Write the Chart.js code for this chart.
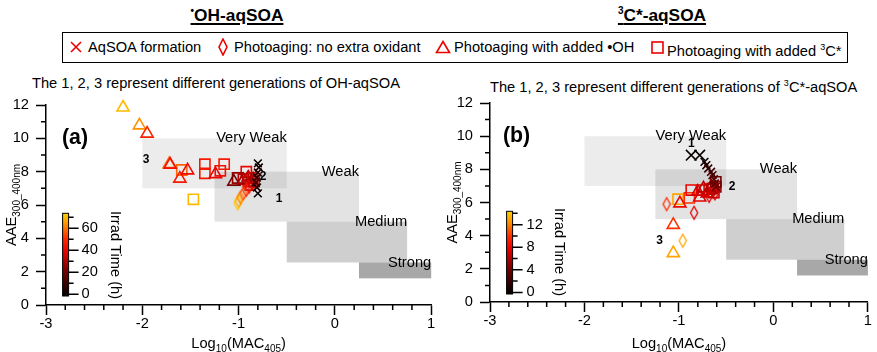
<!DOCTYPE html>
<html>
<head>
<meta charset="utf-8">
<script src="https://cdn.jsdelivr.net/npm/chart.js@4.4.1/dist/chart.umd.min.js"></script>
<style>
  body { margin: 0; background: #fff; }
  #page { position: relative; width: 877px; height: 352px; overflow: hidden; font-family: "Liberation Sans", Arial, sans-serif; color: #000; }
  .ttl { position: absolute; top: 0; width: 240px; text-align: center; font-weight: bold; font-size: 17.3px; line-height: 22px; }
  .ttl span { text-decoration: underline; text-underline-offset: 2px; text-decoration-thickness: 1.5px; }
  .ttl sup { font-size: 10px; }
  #legend { position: absolute; left: 62px; top: 32px; width: 786px; height: 31px; border: 1.5px solid #000; box-sizing: border-box; }
  .li { position: absolute; top: 38px; font-size: 14.67px; line-height: 18px; white-space: nowrap; }
  .li sup { font-size: 9px; vertical-align: 6px; }
  .mk { position: absolute; }
  .subt { position: absolute; top: 75px; font-size: 14.67px; line-height: 16px; white-space: nowrap; }
  .subt sup { font-size: 9px; vertical-align: 6px; }
  canvas { position: absolute; top: 70px; }
</style>
</head>
<body>
<div id="page">
  <div class="ttl" style="left:117px"><span><sup>•</sup>OH-aqSOA</span></div>
  <div class="ttl" style="left:542px"><span><sup>3</sup>C*-aqSOA</span></div>

  <div id="legend"></div>
  <svg class="mk" style="left:70px;top:41px" width="12" height="12"><path d="M1,1 L11,11 M11,1 L1,11" stroke="#e00" stroke-width="1.6"/></svg>
  <div class="li" style="left:88px">AqSOA formation</div>
  <svg class="mk" style="left:218px;top:38px" width="10" height="18"><path d="M5,1 L9,9 L5,17 L1,9 Z" fill="none" stroke="#e00" stroke-width="1.6"/></svg>
  <div class="li" style="left:234px">Photoaging: no extra oxidant</div>
  <svg class="mk" style="left:435px;top:40px" width="16" height="14"><path d="M8,1.5 L14.5,12.5 L1.5,12.5 Z" fill="none" stroke="#e00" stroke-width="1.6"/></svg>
  <div class="li" style="left:454px">Photoaging with added •OH</div>
  <svg class="mk" style="left:651px;top:41px" width="13" height="13"><rect x="1" y="1" width="11" height="11" fill="none" stroke="#e00" stroke-width="1.6"/></svg>
  <div class="li" style="left:667px">Photoaging with added <sup>3</sup>C*</div>

  <div class="subt" style="left:32px">The 1, 2, 3 represent different generations of OH-aqSOA</div>
  <div class="subt" style="left:490px">The 1, 2, 3 represent different generations of <sup>3</sup>C*-aqSOA</div>

  <canvas id="chartA" width="440" height="282" style="left:0px"></canvas>
  <canvas id="chartB" width="437" height="282" style="left:440px"></canvas>
</div>
<script>
// axes
const xTicks = [-3, -2, -1, 0, 1];
const yTicks = [0, 2, 4, 6, 8, 10, 12];
const xMinorTicks = [];
for (let v = -3; v < 1; v += 0.2) { if (Math.abs(v - Math.round(v)) > 0.01) xMinorTicks.push(v); }
const yMinorTicks = [1, 3, 5, 7, 9, 11];

// absorptivity classes (log10 MAC range, AAE range)
const zoneNames = ['Very Weak', 'Weak', 'Medium', 'Strong'];
const zoneX0 = [-2, -1.25, -0.5, 0.25];
const zoneX1 = [-0.5, 0.25, 0.75, 1];
const zoneY0 = [7, 5, 2.55, 1.6];
const zoneY1 = [10, 8, 5, 2.55];
const zoneFill = ['rgba(0,0,0,0.075)', 'rgba(0,0,0,0.11)', 'rgba(0,0,0,0.19)', 'rgba(0,0,0,0.34)'];

// panel (a) OH-aqSOA : [log10 MAC405, AAE, irradiation time h]
const ohFormation = [[-0.80, 8.50, 0], [-0.79, 8.25, 2], [-0.80, 7.95, 6], [-0.81, 7.65, 9], [-0.82, 7.35, 12], [-0.81, 7.05, 5], [-0.80, 6.70, 0]];
const ohNoOxidant = [[-1.01, 6.10, 72], [-1.00, 6.25, 68], [-0.98, 6.45, 62], [-0.95, 6.70, 56], [-0.92, 6.90, 50], [-0.89, 7.10, 44], [-0.86, 7.30, 38], [-0.84, 7.45, 32], [-0.85, 7.60, 26]];
const ohAddedOH = [[-2.20, 11.85, 70], [-2.03, 10.78, 64], [-1.95, 10.28, 48], [-1.72, 8.45, 58], [-1.71, 8.42, 44], [-1.61, 7.58, 46], [-1.53, 8.08, 42], [-1.24, 7.85, 40], [-1.05, 7.40, 22], [-0.95, 7.50, 28], [-0.90, 7.65, 34], [-0.86, 7.35, 30]];
const ohAdded3C = [[-1.59, 8.10, 58], [-1.47, 6.34, 70], [-1.35, 8.45, 46], [-1.35, 7.90, 46], [-1.19, 8.05, 44], [-1.15, 8.45, 46], [-0.92, 8.00, 40], [-1.01, 7.62, 26], [-0.95, 7.55, 32], [-0.90, 7.40, 36], [-0.86, 7.62, 38], [-0.84, 7.40, 34], [-0.88, 7.20, 30]];
const ohGenLabels = ['3', '2', '1'];
const ohGenX = [-1.96, -0.745, -0.58];
const ohGenY = [8.7, 7.7, 6.4];
const ohCbarMajor = [0, 20, 40, 60];
const ohCbarMinor = [10, 30, 50, 70];

// panel (b) 3C*-aqSOA
const ccFormation = [[-0.87, 8.85, 0], [-0.78, 8.85, 0], [-0.73, 8.45, 0.5], [-0.71, 8.25, 1], [-0.69, 8.05, 1.5], [-0.66, 7.85, 2], [-0.645, 7.65, 2.5], [-0.63, 7.40, 3], [-0.62, 7.15, 3.5], [-0.61, 6.95, 4]];
const ccNoOxidant = [[-1.13, 5.90, 10], [-0.96, 3.70, 13], [-0.84, 5.38, 7.5], [-0.68, 6.40, 7], [-0.64, 6.70, 6.5], [-0.61, 6.90, 6], [-0.62, 6.55, 7]];
const ccAddedOH = [[-1.06, 2.95, 13], [-1.06, 4.65, 10], [-0.99, 5.95, 8], [-0.78, 6.30, 7.5], [-0.80, 6.65, 7], [-0.74, 6.85, 6.5], [-0.70, 6.55, 7], [-0.66, 6.95, 6]];
const ccAdded3C = [[-1.01, 6.20, 13], [-0.89, 6.28, 10], [-0.87, 6.75, 8], [-0.75, 6.75, 7.5], [-0.68, 6.80, 7], [-0.645, 6.85, 6], [-0.61, 6.95, 5], [-0.61, 7.25, 4], [-0.63, 6.60, 7]];
const ccGenLabels = ['1', '2', '3'];
const ccGenX = [-0.87, -0.437, -1.206];
const ccGenY = [9.56, 6.95, 3.71];
const ccCbarMajor = [0, 4, 8, 12];
const ccCbarMinor = [2, 6, 10, 14];

const FONT = '"Liberation Sans", Arial, sans-serif';

// black - dark red - red - orange - yellow
const cmapStops = [[0, [0, 0, 0]], [0.3, [115, 0, 0]], [0.55, [235, 0, 0]], [0.7, [255, 45, 0]], [0.85, [255, 135, 0]], [1, [255, 210, 0]]];
function rgb(c) { return 'rgb(' + c.map(Math.round).join(',') + ')'; }
function cmap(f) {
    f = Math.max(0, Math.min(1, f));
    for (let i = 1; i < cmapStops.length; i++) {
        const [p0, c0] = cmapStops[i - 1];
        const [p1, c1] = cmapStops[i];
        if (f <= p1) {
            const k = (f - p0) / (p1 - p0);
            return rgb(c0.map((v, j) => v + (c1[j] - v) * k));
        }
    }
    return rgb(cmapStops[cmapStops.length - 1][1]);
}

const diamondCache = {};
function diamondImg(color) {
    if (!diamondCache[color]) {
        const c = document.createElement('canvas');
        c.width = 10; c.height = 16;
        const g = c.getContext('2d');
        g.strokeStyle = color; g.lineWidth = 1.3;
        g.beginPath(); g.moveTo(5, 1.5); g.lineTo(8.6, 8); g.lineTo(5, 14.5); g.lineTo(1.4, 8); g.closePath(); g.stroke();
        diamondCache[color] = c;
    }
    return diamondCache[color];
}

function drawRich(ctx, parts, cx, base) {
    const fMain = '14.67px ' + FONT, fSub = '10px ' + FONT;
    let w = 0;
    parts.forEach(p => { ctx.font = p.sub ? fSub : fMain; w += ctx.measureText(p.t).width; });
    let x = cx - w / 2;
    ctx.textAlign = 'left'; ctx.textBaseline = 'alphabetic';
    parts.forEach(p => {
        ctx.font = p.sub ? fSub : fMain;
        ctx.fillText(p.t, x, base + (p.sub ? 4 : 0));
        x += ctx.measureText(p.t).width;
    });
}

const decor = {
    id: 'decor',
    beforeDatasetsDraw(chart, args, o) {
        const {ctx, scales: {x, y}} = chart;
        ctx.save();
        zoneNames.forEach((name, i) => {
            const l = x.getPixelForValue(zoneX0[i]), r = x.getPixelForValue(zoneX1[i]);
            const t = y.getPixelForValue(zoneY1[i]), b = y.getPixelForValue(zoneY0[i]);
            ctx.fillStyle = zoneFill[i];
            ctx.fillRect(l, t, r - l, b - t);
        });
        ctx.fillStyle = '#000';
        ctx.font = '14.67px ' + FONT;
        ctx.textAlign = 'right'; ctx.textBaseline = 'middle';
        zoneNames.forEach((name, i) => ctx.fillText(name, x.getPixelForValue(zoneX1[i]), y.getPixelForValue(zoneY1[i])));
        ctx.restore();
    },
    afterDraw(chart, args, o) {
        const {ctx, chartArea: a, scales: {x, y}} = chart;
        ctx.save();
        ctx.strokeStyle = '#000'; ctx.lineWidth = 1.5;
        ctx.beginPath();
        xMinorTicks.forEach(v => { const px = x.getPixelForValue(v); ctx.moveTo(px, a.bottom); ctx.lineTo(px, a.bottom + 5); });
        yMinorTicks.forEach(v => { const py = y.getPixelForValue(v); ctx.moveTo(a.left - 5, py); ctx.lineTo(a.left, py); });
        ctx.stroke();

        // generation labels
        ctx.fillStyle = '#000';
        ctx.font = 'bold 12px ' + FONT;
        ctx.textAlign = 'center'; ctx.textBaseline = 'middle';
        o.genLabels.forEach((s, i) => ctx.fillText(s, x.getPixelForValue(o.genX[i]), y.getPixelForValue(o.genY[i])));

        // panel letter
        ctx.font = 'bold 21.3px ' + FONT;
        ctx.textAlign = 'left';
        ctx.fillText(o.letter, a.left + o.letterDx, a.top + 33);

        // colour bar
        const bx = a.left + 16.6, bw = 6;
        const bb = a.bottom - o.cbBottom, bt = bb - 82.7;
        const pix = v => bb - (v - o.cbLo) / (o.cbHi - o.cbLo) * (bb - bt);
        const grad = ctx.createLinearGradient(0, bb, 0, bt);
        cmapStops.forEach(([p, c]) => grad.addColorStop(p, rgb(c)));
        ctx.fillStyle = grad;
        ctx.fillRect(bx, bt, bw, bb - bt);
        ctx.lineWidth = 1;
        ctx.strokeRect(bx, bt, bw, bb - bt);
        ctx.lineWidth = 1.5;
        ctx.beginPath();
        o.cbMajor.forEach(v => { ctx.moveTo(bx + bw, pix(v)); ctx.lineTo(bx + bw + 10, pix(v)); });
        o.cbMinor.forEach(v => { ctx.moveTo(bx + bw, pix(v)); ctx.lineTo(bx + bw + 5, pix(v)); });
        ctx.stroke();
        ctx.fillStyle = '#000';
        ctx.font = '14.67px ' + FONT;
        ctx.textAlign = 'left'; ctx.textBaseline = 'middle';
        o.cbMajor.forEach(v => ctx.fillText(String(v), bx + bw + o.cbLabelDx, pix(v)));
        ctx.save();
        ctx.translate(a.left + 69, a.bottom - 50);
        ctx.rotate(Math.PI / 2);
        ctx.textAlign = 'center';
        ctx.fillText('Irrad Time (h)', 0, 0);
        ctx.restore();

        // axis titles
        drawRich(ctx, [{t: 'Log'}, {t: '10', sub: true}, {t: '(MAC'}, {t: '405', sub: true}, {t: ')'}], (a.left + a.right) / 2, 278);
        ctx.save();
        ctx.translate(o.yTitleX, (a.top + a.bottom) / 2);
        ctx.rotate(-Math.PI / 2);
        drawRich(ctx, [{t: 'AAE'}, {t: '300_400nm', sub: true}], 0, 5.3);
        ctx.restore();
        ctx.restore();
    }
};

function toPoints(arr) { return arr.map(p => ({x: p[0], y: p[1], t: p[2]})); }

function makePanel(id, series, cfg) {
    const col = ctx => cmap((ctx.raw.t - cfg.cbLo) / (cfg.cbHi - cfg.cbLo));
    const base = {clip: false, borderWidth: 1.6, backgroundColor: 'rgba(0,0,0,0)', borderColor: col, pointBorderColor: col};
    const datasets = [
        Object.assign({}, base, {label: 'AqSOA formation', data: toPoints(series[0]), pointStyle: 'crossRot',
            pointRadius: ctx => (cfg.bigFirst && ctx.dataIndex < 2) ? 7.5 : 5.5}),
        Object.assign({}, base, {label: 'Photoaging: no extra oxidant', data: toPoints(series[1]),
            pointStyle: ctx => diamondImg(col(ctx)), pointRadius: 6}),
        Object.assign({}, base, {label: 'Photoaging with added OH', data: toPoints(series[2]), pointStyle: 'triangle', pointRadius: 7}),
        Object.assign({}, base, {label: 'Photoaging with added 3C*', data: toPoints(series[3]), pointStyle: 'rect', pointRadius: 7.2})
    ];
    const tickFont = {family: FONT, size: 14.67};
    return new Chart(document.getElementById(id), {
        type: 'scatter',
        data: {datasets: datasets},
        options: {
            responsive: false,
            animation: false,
            devicePixelRatio: 1,
            layout: {padding: cfg.pad},
            plugins: {legend: {display: false}, tooltip: {enabled: false}, decor: cfg},
            scales: {
                x: {
                    type: 'linear', min: -3, max: 1,
                    afterBuildTicks: s => { s.ticks = xTicks.map(v => ({value: v})); },
                    afterFit: s => { s.height = cfg.xh; s.paddingLeft = 0; s.paddingRight = 0; },
                    ticks: {color: '#000', font: tickFont, padding: 0, maxRotation: 0, callback: v => String(v)},
                    grid: {drawOnChartArea: false, drawTicks: true, tickLength: 10, tickColor: '#000', tickWidth: 1.5},
                    border: {display: true, color: '#000', width: 1.5}
                },
                y: {
                    type: 'linear', min: 0, max: 12,
                    afterBuildTicks: s => { s.ticks = yTicks.map(v => ({value: v})); },
                    afterFit: s => { s.width = cfg.yw; s.paddingTop = 0; s.paddingBottom = 0; },
                    ticks: {color: '#000', font: tickFont, padding: 7, callback: v => String(v)},
                    grid: {drawOnChartArea: false, drawTicks: true, tickLength: 10, tickColor: '#000', tickWidth: 1.5},
                    border: {display: true, color: '#000', width: 1.5}
                }
            }
        },
        plugins: [decor]
    });
}

makePanel('chartA', [ohFormation, ohNoOxidant, ohAddedOH, ohAdded3C], {
    pad: {left: 0, right: 8, top: 35, bottom: 0}, xh: 47, yw: 46,
    letter: '(a)', letterDx: 16, yTitleX: 10.5,
    genLabels: ohGenLabels, genX: ohGenX, genY: ohGenY,
    cbLo: -1.5, cbHi: 73.6, cbBottom: 9, cbMajor: ohCbarMajor, cbMinor: ohCbarMinor, cbLabelDx: 13,
    bigFirst: false
});
makePanel('chartB', [ccFormation, ccNoOxidant, ccAddedOH, ccAdded3C], {
    pad: {left: 0, right: 2, top: 33, bottom: 0}, xh: 50, yw: 50,
    letter: '(b)', letterDx: 13, yTitleX: 11.3,
    genLabels: ccGenLabels, genX: ccGenX, genY: ccGenY,
    cbLo: -0.28, cbHi: 14.36, cbBottom: 8, cbMajor: ccCbarMajor, cbMinor: ccCbarMinor, cbLabelDx: 14,
    bigFirst: true
});
</script>
</body>
</html>
